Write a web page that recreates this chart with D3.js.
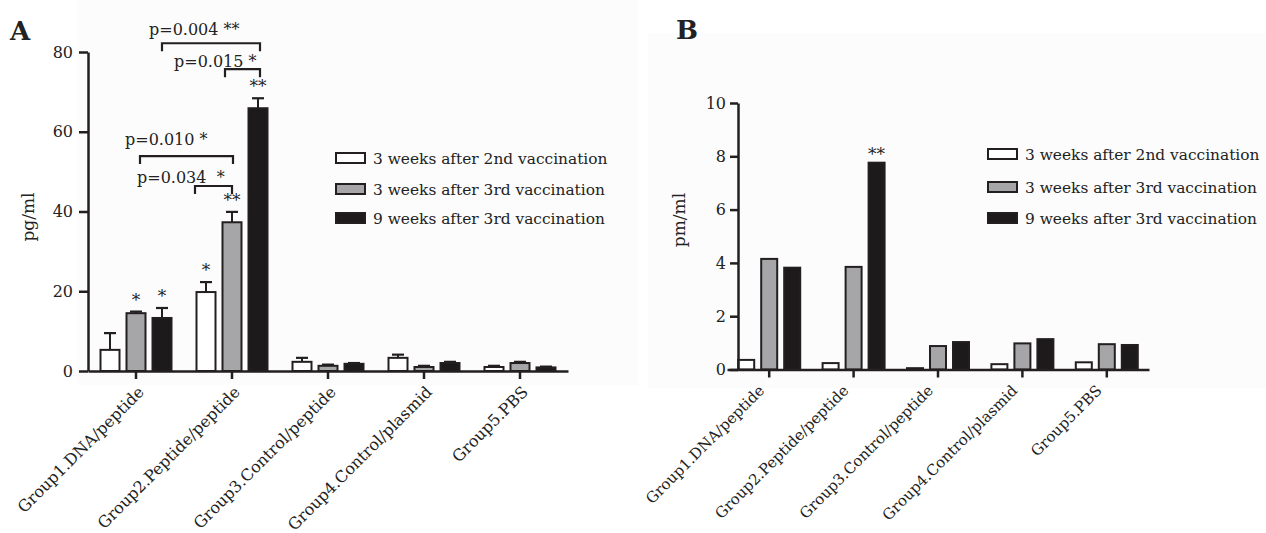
<!DOCTYPE html>
<html>
<head>
<meta charset="utf-8">
<script src="https://cdn.jsdelivr.net/npm/d3@7"></script>
<style>
  body { margin: 0; background: #fff; }
  text { font-family: "DejaVu Serif", serif; fill: #222; }
</style>
</head>
<body>
<svg id="chart" width="1266" height="533"></svg>
<script>
// data
const groups = ["Group1.DNA/peptide", "Group2.Peptide/peptide", "Group3.Control/peptide", "Group4.Control/plasmid", "Group5.PBS"];
const seriesNames = ["3 weeks after 2nd vaccination", "3 weeks after 3rd vaccination", "9 weeks after 3rd vaccination"];

// panel A (pg/ml), mean and error
const aWeek3After2nd = [5.3, 19.8, 2.3, 3.3, 1.0];
const aWeek3After3rd = [14.5, 37.3, 1.3, 1.0, 2.0];
const aWeek9After3rd = [13.3, 65.9, 1.8, 2.0, 0.9];
const aErr3After2nd = [4.2, 2.5, 1.0, 0.8, 0.3];
const aErr3After3rd = [0.4, 2.6, 0.3, 0.3, 0.3];
const aErr9After3rd = [2.5, 2.5, 0.2, 0.3, 0.2];
const aTicks = [0, 20, 40, 60, 80];
// [group, series, label]
const aStars = [[0, 1, "*"], [0, 2, "*"], [1, 0, "*"], [1, 1, "**"], [1, 2, "**"]];
// [group1, series1, group2, series2, level, label]
const aBrackets = [
  [0, 2, 1, 2, 82.2, "p=0.004 **"],
  [1, 1, 1, 2, 75.7, "p=0.015 *"],
  [0, 1, 1, 1, 53.9, "p=0.010 *"],
  [1, 0, 1, 1, 46.4, "p=0.034  *"]
];

// panel B (pm/ml)
const bWeek3After2nd = [0.36, 0.24, 0.05, 0.2, 0.27];
const bWeek3After3rd = [4.15, 3.85, 0.88, 0.98, 0.95];
const bWeek9After3rd = [3.82, 7.76, 1.03, 1.14, 0.92];
const bTicks = [0, 2, 4, 6, 8, 10];
const bStars = [[1, 2, "**"]];

const fills = ["#ffffff", "#a6a6a8", "#1c1a1b"];
const ink = "#231f20";

const svg = d3.select("#chart");

function drawPanel(p) {
  const g = svg.append("g");

  g.append("rect")
    .attr("x", p.bg[0]).attr("y", p.bg[1])
    .attr("width", p.bg[2]).attr("height", p.bg[3])
    .attr("fill", "#fcfcfc");

  let x = d3.scaleBand().domain(d3.range(groups.length)).range(p.xRange);
  let inner = d3.scaleBand().domain([0, 1, 2])
    .range([-p.innerHalf, p.innerHalf])
    .paddingInner(p.innerPad);
  let y = d3.scaleLinear().domain(p.yDomain).range(p.yRange);

  let barX = (gi, si) => x(gi) + x.bandwidth() / 2 + inner(si);
  let barC = (gi, si) => barX(gi, si) + inner.bandwidth() / 2;

  // error bars (drawn first so bars cover the lower half)
  if (p.err) {
    p.err.forEach((errs, si) => {
      errs.forEach((e, gi) => {
        let top = y(p.values[si][gi] + e);
        let cx = barC(gi, si);
        g.append("line")
          .attr("x1", cx).attr("x2", cx)
          .attr("y1", y(p.values[si][gi])).attr("y2", top)
          .attr("stroke", ink).attr("stroke-width", 2);
        g.append("line")
          .attr("x1", cx - 6).attr("x2", cx + 6)
          .attr("y1", top).attr("y2", top)
          .attr("stroke", ink).attr("stroke-width", 2.2);
      });
    });
  }

  p.values.forEach((vals, si) => {
    g.selectAll(".bar" + si)
      .data(vals)
      .enter()
      .append("rect")
        .attr("x", (d, i) => barX(i, si))
        .attr("width", inner.bandwidth())
        .attr("y", d => y(d))
        .attr("height", d => y(0) - y(d))
        .attr("fill", fills[si])
        .attr("stroke", ink)
        .attr("stroke-width", 2);
  });

  // y axis
  let yAxis = d3.axisLeft(y).tickValues(p.ticks).tickSize(p.tickLen).tickSizeOuter(0).tickPadding(p.tickPad);
  let ya = g.append("g")
    .attr("transform", "translate(" + p.yAxisX + ",0)")
    .call(yAxis);
  ya.select(".domain").attr("stroke", ink).attr("stroke-width", 2.5);
  ya.selectAll(".tick line").attr("stroke", ink).attr("stroke-width", 2.5);
  ya.selectAll(".tick text")
    .style("font-family", "DejaVu Serif")
    .style("font-size", "16px")
    .attr("fill", ink);

  // x axis
  let xAxis = d3.axisBottom(x).tickSize(8).tickSizeOuter(0).tickFormat("");
  let xa = g.append("g")
    .attr("transform", "translate(0," + y(0) + ")")
    .call(xAxis);
  xa.select(".domain").attr("stroke", ink).attr("stroke-width", 2.5);
  xa.selectAll(".tick line").attr("stroke", ink).attr("stroke-width", 2.5);

  g.selectAll(".xlabel")
    .data(groups)
    .enter()
    .append("text")
      .attr("transform", (d, i) => "translate(" + (x(i) + x.bandwidth() / 2 + p.labelDx) + "," + (y(0) + 22) + ") rotate(-45)")
      .attr("text-anchor", "end")
      .style("font-size", p.labelSize)
      .text(d => d);

  // y label
  g.append("text")
    .attr("transform", "translate(" + p.yLabelPos[0] + "," + p.yLabelPos[1] + ") rotate(-90)")
    .attr("text-anchor", "middle")
    .attr("dy", "0.35em")
    .style("font-size", "17px")
    .text(p.yLabel);

  // panel letter
  g.append("text")
    .attr("x", p.letterPos[0]).attr("y", p.letterPos[1])
    .style("font-size", "26px")
    .style("font-weight", "bold")
    .attr("fill", "#111")
    .text(p.letter);

  // stars
  p.stars.forEach(s => {
    let v = p.values[s[1]][s[0]] + (p.err ? p.err[s[1]][s[0]] : 0);
    g.append("text")
      .attr("x", barC(s[0], s[1]))
      .attr("y", y(v) - p.starGap)
      .attr("text-anchor", "middle")
      .style("font-size", "17px")
      .text(s[2]);
  });

  // brackets
  (p.brackets || []).forEach((b, k) => {
    let x1 = barC(b[0], b[1]) + p.bracketDx[k][0];
    let x2 = barC(b[2], b[3]) + p.bracketDx[k][1];
    let yy = y(b[4]);
    g.append("path")
      .attr("d", "M" + x1 + "," + (yy + 8) + "V" + yy + "H" + x2 + "V" + (yy + 8))
      .attr("fill", "none")
      .attr("stroke", ink)
      .attr("stroke-width", 2.2);
    g.append("text")
      .attr("x", x1 + p.bracketText[k][0])
      .attr("y", yy + p.bracketText[k][1])
      .style("font-size", "16px")
      .style("white-space", "pre")
      .text(b[5]);
  });

  // legend
  let lg = g.append("g").attr("transform", "translate(" + p.legendPos[0] + "," + p.legendPos[1] + ")");
  seriesNames.forEach((name, i) => {
    lg.append("rect")
      .attr("x", 0).attr("y", p.legendRows[i] - 5)
      .attr("width", 29).attr("height", 10)
      .attr("fill", fills[i])
      .attr("stroke", ink)
      .attr("stroke-width", 2);
    lg.append("text")
      .attr("x", 37).attr("y", p.legendRows[i] + 6)
      .style("font-size", "15.4px")
      .text(name);
  });
}

drawPanel({
  letter: "A",
  letterPos: [10, 40],
  bg: [78, 0, 560, 385],
  values: [aWeek3After2nd, aWeek3After3rd, aWeek9After3rd],
  err: [aErr3After2nd, aErr3After3rd, aErr9After3rd],
  xRange: [88, 568],
  innerHalf: 35.5,
  innerPad: 7 / 26,
  yDomain: [0, 80],
  yRange: [371, 52],
  ticks: aTicks,
  yAxisX: 88,
  tickLen: 9,
  tickPad: 6,
  labelDx: 9,
  labelSize: "16px",
  yLabel: "pg/ml",
  yLabelPos: [28, 217],
  stars: aStars,
  starGap: 6,
  brackets: aBrackets,
  bracketDx: [[0, 2], [-7, 2], [4, 1], [-11, 0]],
  bracketText: [[-13, -8], [-51, -2], [-15, -11], [-58, -3]],
  legendPos: [336, 0],
  legendRows: [158, 189, 218]
});

drawPanel({
  letter: "B",
  letterPos: [676, 39],
  bg: [648, 33, 618, 355],
  values: [bWeek3After2nd, bWeek3After3rd, bWeek9After3rd],
  err: null,
  xRange: [727, 1149],
  innerHalf: 31,
  innerPad: 7 / 23,
  yDomain: [0, 10],
  yRange: [369.5, 103],
  ticks: bTicks,
  yAxisX: 738,
  tickLen: 8,
  tickPad: 4,
  labelDx: -4,
  labelSize: "15px",
  yLabel: "pm/ml",
  yLabelPos: [679, 220],
  stars: bStars,
  starGap: 3,
  legendPos: [988, 0],
  legendRows: [154, 187, 218]
});
</script>
</body>
</html>
